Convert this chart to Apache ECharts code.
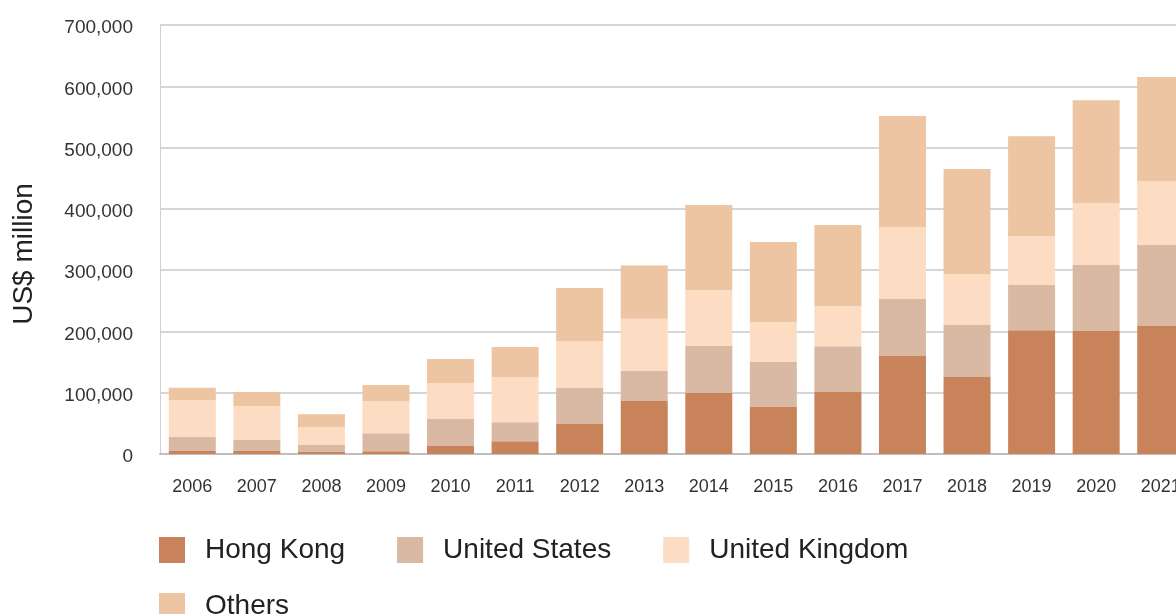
<!DOCTYPE html>
<html>
<head>
<meta charset="utf-8">
<script src="https://cdn.jsdelivr.net/npm/echarts@6/dist/echarts.min.js"></script>
<style>
html,body{margin:0;padding:0;background:#fff;}
#chart{width:1176px;height:614px;}
</style>
</head>
<body>
<div id="chart"></div>
<script>
const years = ['2006','2007','2008','2009','2010','2011','2012','2013','2014','2015','2016','2017','2018','2019','2020','2021'];
const hongKong = [5000, 5000, 4000, 4500, 13000, 21000, 49000, 86500, 99500, 76700, 101000, 160000, 125600, 202000, 200700, 209000];
const unitedStates = [23000, 18000, 10500, 29500, 44000, 31000, 58700, 49000, 76700, 73400, 75000, 93000, 85000, 73600, 107700, 132000];
const unitedKingdom = [60000, 55000, 29500, 52500, 59000, 73600, 76700, 85000, 91600, 65000, 65500, 117000, 83000, 80000, 101000, 104500];
const others = [20000, 23000, 21000, 26000, 39000, 49000, 86600, 87000, 138600, 131000, 132000, 181500, 171500, 163000, 168000, 169500];
const seriesNames = ['Hong Kong', 'United States', 'United Kingdom', 'Others'];
const yTicks = [0, 100000, 200000, 300000, 400000, 500000, 600000, 700000];
const yTitle = 'US$ million';

const FONT = "'Liberation Sans', Arial, Helvetica, sans-serif";
const colors = ['#c9835b', '#d9b9a3', '#fcdcc2', '#eec5a2'];
const chart = echarts.init(document.getElementById('chart'));
const legendText = {fontSize: 28, color: '#222', fontFamily: FONT, padding: [0, 0, 0, 15]};
const mk = (name, data, i) => ({
  name: name, type: 'bar', stack: 'total', data: data, barWidth: 47,
  itemStyle: {color: colors[i]}, emphasis: {disabled: true}
});
chart.setOption({
  animation: false,
  color: colors,
  grid: {left: 160, width: 1033, top: 25, height: 429, containLabel: false, outerBoundsMode: 'none'},
  graphic: [{
    type: 'text', x: 24, y: 254, rotation: Math.PI / 2,
    style: {text: yTitle, fontSize: 28, fill: '#222', fontFamily: FONT, align: 'center', verticalAlign: 'middle'}
  }],
  legend: [
    {data: seriesNames.slice(0, 3), left: 159, top: 536, padding: 0, itemWidth: 26, itemHeight: 26, itemGap: 52,
     icon: 'rect', textStyle: legendText, selectedMode: false},
    {data: seriesNames.slice(3), left: 159, top: 592, padding: 0, itemWidth: 26, itemHeight: 26, itemGap: 52,
     icon: 'rect', textStyle: legendText, selectedMode: false}
  ],
  xAxis: {
    type: 'category', data: years,
    axisLine: {show: true, lineStyle: {color: '#bfbfbf', width: 2}},
    axisTick: {show: false},
    axisLabel: {fontSize: 18, color: '#333', fontFamily: FONT, margin: 24}
  },
  yAxis: {
    type: 'value', min: 0, max: 700000, interval: 100000,
    axisLine: {show: true, lineStyle: {color: '#d0d0d0', width: 1}},
    axisTick: {show: false},
    splitLine: {show: true, lineStyle: {color: '#c8c8c8', width: 1.5}},
    axisLabel: {color: '#333', fontFamily: FONT, margin: 27,
      formatter: v => yTicks.indexOf(v) >= 0 ? '{a|' + v.toLocaleString('en-US') + '}' : '',
      rich: {a: {fontSize: 19, color: '#333', fontFamily: FONT, padding: [6, 0, 0, 0]}}}
  },
  series: [
    mk(seriesNames[0], hongKong, 0),
    mk(seriesNames[1], unitedStates, 1),
    mk(seriesNames[2], unitedKingdom, 2),
    mk(seriesNames[3], others, 3)
  ]
});
</script>
</body>
</html>
